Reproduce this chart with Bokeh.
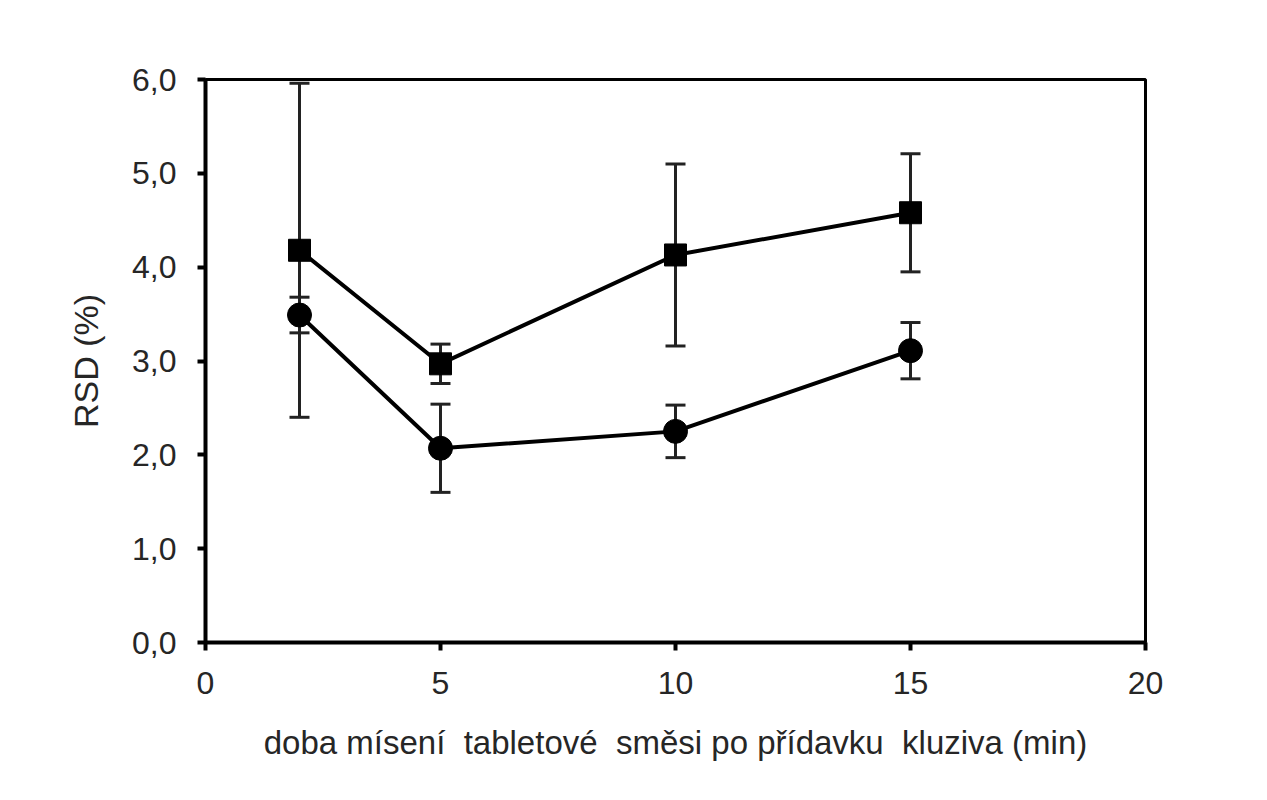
from bokeh.plotting import figure
from bokeh.models import ColumnDataSource, Whisker, TeeHead, Range1d, FixedTicker
from bokeh.embed import file_html
from bokeh.resources import INLINE

# ---- data ----
times = [2, 5, 10, 15]
rsd_square = [4.18, 2.97, 4.13, 4.58]
err_square = [1.78, 0.21, 0.97, 0.63]
rsd_circle = [3.49, 2.07, 2.25, 3.11]
err_circle = [0.19, 0.47, 0.28, 0.30]
x_ticks = [0, 5, 10, 15, 20]
y_ticks = [0, 1, 2, 3, 4, 5, 6]

FONT = "Liberation Sans"
TXT = "#262626"

p = figure(width=1251, height=784, output_backend="svg", toolbar_location=None,
           x_range=Range1d(0, 20), y_range=Range1d(0, 6),
           min_border_left=205, min_border_right=106,
           min_border_top=79, min_border_bottom=142)
p.background_fill_color = "white"
p.border_fill_color = "white"
p.outline_line_color = "black"
p.outline_line_width = 3
p.xgrid.visible = False
p.ygrid.visible = False

for ax in (p.xaxis[0], p.yaxis[0]):
    ax.axis_line_color = "black"
    ax.axis_line_width = 4
    ax.major_tick_line_color = "black"
    ax.major_tick_line_width = 4
    ax.major_tick_in = 0
    ax.major_tick_out = 8
    ax.minor_tick_line_color = None
    ax.major_label_text_font = FONT
    ax.major_label_text_font_size = "32px"
    ax.major_label_text_color = TXT
    ax.axis_label_text_font = FONT
    ax.axis_label_text_font_style = "normal"
    ax.axis_label_text_color = TXT

p.xaxis.axis_label_text_font_size = "33px"
p.yaxis.axis_label_text_font_size = "34px"
p.xaxis.ticker = FixedTicker(ticks=x_ticks)
p.yaxis.ticker = FixedTicker(ticks=y_ticks)
p.yaxis.major_label_overrides = {t: f"{t:.1f}".replace(".", ",") for t in y_ticks}
p.xaxis.major_label_standoff = 21
p.yaxis.major_label_standoff = 21
p.xaxis.axis_label = "doba mísení\u00a0 tabletové\u00a0 směsi po přídavku\u00a0 kluziva (min)"
p.yaxis.axis_label = "RSD (%)"
p.xaxis.axis_label_standoff = 27
p.yaxis.axis_label_standoff = 24

src_sq = ColumnDataSource(dict(x=times, y=rsd_square,
                               lo=[v - e for v, e in zip(rsd_square, err_square)],
                               hi=[v + e for v, e in zip(rsd_square, err_square)]))
src_ci = ColumnDataSource(dict(x=times, y=rsd_circle,
                               lo=[v - e for v, e in zip(rsd_circle, err_circle)],
                               hi=[v + e for v, e in zip(rsd_circle, err_circle)]))

for src in (src_sq, src_ci):
    w = Whisker(base="x", lower="lo", upper="hi", source=src,
                line_color="#222222", line_width=3,
                upper_head=TeeHead(size=20, line_color="#222222", line_width=3),
                lower_head=TeeHead(size=20, line_color="#222222", line_width=3))
    p.add_layout(w)

p.line("x", "y", source=src_sq, line_color="black", line_width=4)
p.line("x", "y", source=src_ci, line_color="black", line_width=4)
p.scatter("x", "y", source=src_sq, marker="square", size=22,
          fill_color="black", line_color="black")
p.scatter("x", "y", source=src_ci, marker="circle", size=24,
          fill_color="black", line_color="black")

open("out.html", "w").write(file_html(p, INLINE))
